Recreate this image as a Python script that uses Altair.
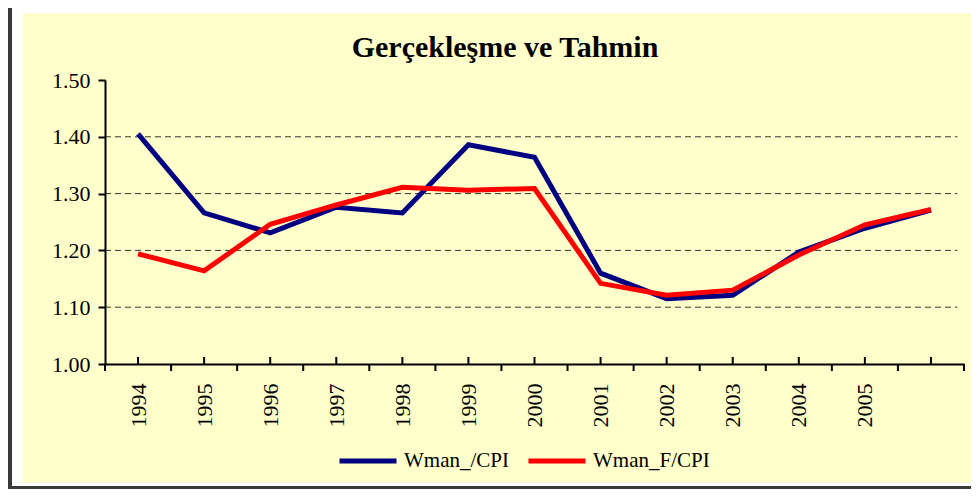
import altair as alt
import pandas as pd

years = [1994, 1995, 1996, 1997, 1998, 1999, 2000, 2001, 2002, 2003, 2004, 2005, 2006]
tick_labels = [1994, 1995, 1996, 1997, 1998, 1999, 2000, 2001, 2002, 2003, 2004, 2005]
wman_cpi = [1.405, 1.266, 1.231, 1.276, 1.266, 1.386, 1.364, 1.160, 1.115, 1.121, 1.197, 1.239, 1.271]
wman_f_cpi = [1.194, 1.164, 1.246, 1.280, 1.311, 1.306, 1.309, 1.142, 1.121, 1.130, 1.192, 1.245, 1.272]
series_names = ["Wman_/CPI", "Wman_F/CPI"]
series_colors = ["#000080", "#FF0000"]
y_ticks = [1.0, 1.1, 1.2, 1.3, 1.4, 1.5]
grid_vals = [1.1, 1.2, 1.3, 1.4]
title_text = "Gerçekleşme ve Tahmin"

W, H = 859, 284
FONT = "Liberation Serif"

df = pd.DataFrame(
    {"year": years * 2,
     "value": wman_cpi + wman_f_cpi,
     "series": [series_names[0]] * len(years) + [series_names[1]] * len(years),
     "order": [0] * len(years) + [1] * len(years)}
)

xscale = alt.Scale(domain=[years[0] - 0.5, years[-1] + 0.5], nice=False, zero=False)
yscale = alt.Scale(domain=[1.0, 1.5], nice=False, zero=False)

one = alt.Data(values=[{"a": 1}])

panel = alt.Chart(one).mark_rect(color="#FFFFCC").encode(
    x=alt.value(-82), x2=alt.value(866), y=alt.value(-67), y2=alt.value(403))
left_bar = alt.Chart(one).mark_rect(color="#3a3a3a").encode(
    x=alt.value(-97), x2=alt.value(-93), y=alt.value(-72), y2=alt.value(409))
bottom_bar = alt.Chart(one).mark_rect(color="#3a3a3a").encode(
    x=alt.value(-93), x2=alt.value(866), y=alt.value(406), y2=alt.value(409))

title = alt.Chart(alt.Data(values=[{"t": title_text}])).mark_text(
    font=FONT, fontSize=30, fontWeight="bold", color="black",
    align="center", baseline="alphabetic").encode(
    text="t:N", x=alt.value(400), y=alt.value(-23))

grid = alt.Chart(pd.DataFrame({"g": grid_vals})).mark_rule(
    color="#333333", strokeWidth=1, strokeDash=[6, 4]).encode(
    y=alt.Y("g:Q", scale=yscale),
    x=alt.datum(years[0] - 0.5), x2=alt.datum(years[-1] + 0.4))

bounds = [y - 0.5 for y in years] + [years[-1] + 0.5]
down_ticks = alt.Chart(pd.DataFrame({"t": bounds})).mark_rule(
    color="black", strokeWidth=2, y2Offset=7).encode(
    x=alt.X("t:Q", scale=xscale), y=alt.datum(1.0), y2=alt.datum(1.0))
up_ticks = alt.Chart(pd.DataFrame({"t": years})).mark_rule(
    color="black", strokeWidth=2, y2Offset=-7).encode(
    x=alt.X("t:Q", scale=xscale), y=alt.datum(1.0), y2=alt.datum(1.0))

lines = alt.Chart(df).mark_line(strokeWidth=5).encode(
    x=alt.X("year:Q", scale=xscale, title=None,
            axis=alt.Axis(values=tick_labels, format="d", labelAngle=270,
                          labelAlign="right", labelBaseline="middle",
                          labelFont=FONT, labelFontSize=22, labelColor="black",
                          labelPadding=19, ticks=False, tickSize=0, grid=False,
                          domainColor="black", domainWidth=2, zindex=1)),
    y=alt.Y("value:Q", scale=yscale, title=None,
            axis=alt.Axis(values=y_ticks, format=".2f", labelFont=FONT,
                          labelFontSize=22, labelColor="black", labelPadding=8,
                          tickSize=7, tickWidth=2, tickColor="black", grid=False,
                          domainColor="black", domainWidth=2, zindex=1)),
    color=alt.Color("series:N", scale=alt.Scale(domain=series_names, range=series_colors),
                    legend=alt.Legend(title=None, orient="none", legendX=232, legendY=350,
                                      direction="horizontal", symbolType="stroke",
                                      symbolSize=3249, symbolStrokeWidth=5,
                                      labelFont=FONT, labelFontSize=21, labelColor="black",
                                      labelOffset=5, columnPadding=9, zindex=1)),
    order=alt.Order("order:Q"),
)

chart = alt.layer(panel, left_bar, bottom_bar, title, grid, down_ticks, up_ticks, lines).properties(
    width=W, height=H,
    padding=0,
).configure_view(stroke=None).configure(background="white")

chart.save("out.html", embed_options={"renderer": "svg", "actions": False})
